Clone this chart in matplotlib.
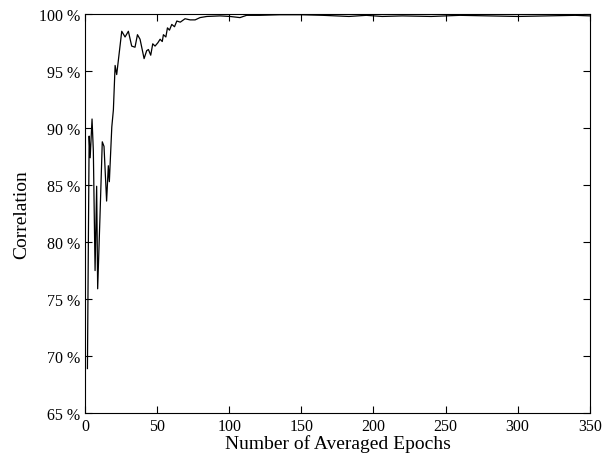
import numpy as np
import matplotlib.pyplot as plt
from matplotlib.ticker import FuncFormatter

# averaged epochs vs correlation (%)
epochs = [1.6, 2.8, 3.5, 4.8, 5.7, 6.9, 8.0, 8.7, 10.3, 11.9, 13.1, 14.9, 16.1, 16.8,
          18.5, 19.6, 20.8, 21.9, 25.4, 27.7, 30.0, 32.3, 34.6, 36.3, 38.1, 40.9,
          42.7, 43.9, 45.5, 46.9, 48.5, 50.5, 52.0, 53.5, 54.3, 56.0, 57.1, 58.5,
          60.1, 62.0, 63.6, 66.0, 69.3, 72.8, 76.3, 79.7, 84.4, 93.6, 100.5, 107.4,
          112, 121, 135, 150, 165, 183, 195, 206, 220, 240, 260, 280, 300, 320, 340, 350]
correlation = [68.9, 89.3, 87.4, 90.8, 88.0, 77.5, 84.9, 75.9, 82.2, 88.8, 88.4, 83.6,
               86.7, 85.3, 90.1, 91.6, 95.5, 94.7, 98.5, 98.0, 98.5, 97.2, 97.1, 98.2,
               97.8, 96.1, 96.8, 96.9, 96.4, 97.4, 97.2, 97.5, 97.8, 97.6, 98.2, 98.0,
               98.8, 98.6, 99.1, 98.9, 99.4, 99.3, 99.6, 99.5, 99.5, 99.7, 99.8, 99.85,
               99.8, 99.7, 99.9, 99.9, 99.95, 99.95, 99.9, 99.8, 99.9, 99.8, 99.85,
               99.8, 99.9, 99.85, 99.8, 99.85, 99.9, 99.85]

xticks = [0, 50, 100, 150, 200, 250, 300, 350]
yticks = [65, 70, 75, 80, 85, 90, 95, 100]

plt.rcParams['font.family'] = ['Liberation Serif', 'DejaVu Serif']

fig = plt.figure(figsize=(6.08, 4.60), dpi=100)
ax = fig.add_axes([0.14, 0.10, 0.83, 0.867])

ax.plot(epochs, correlation, color='black', linewidth=0.9)

ax.set_xlim(0, 350)
ax.set_ylim(65, 100)
ax.set_xticks(xticks)
ax.set_yticks(yticks)
ax.yaxis.set_major_formatter(FuncFormatter(lambda v, p: '%d %%' % v))
ax.tick_params(direction='in', top=True, right=True, labelsize=11.5, length=5)

ax.set_xlabel('Number of Averaged Epochs', fontsize=14, labelpad=0)
ax.set_ylabel('Correlation', fontsize=14, labelpad=6)

fig.savefig('out.png', dpi=100)
